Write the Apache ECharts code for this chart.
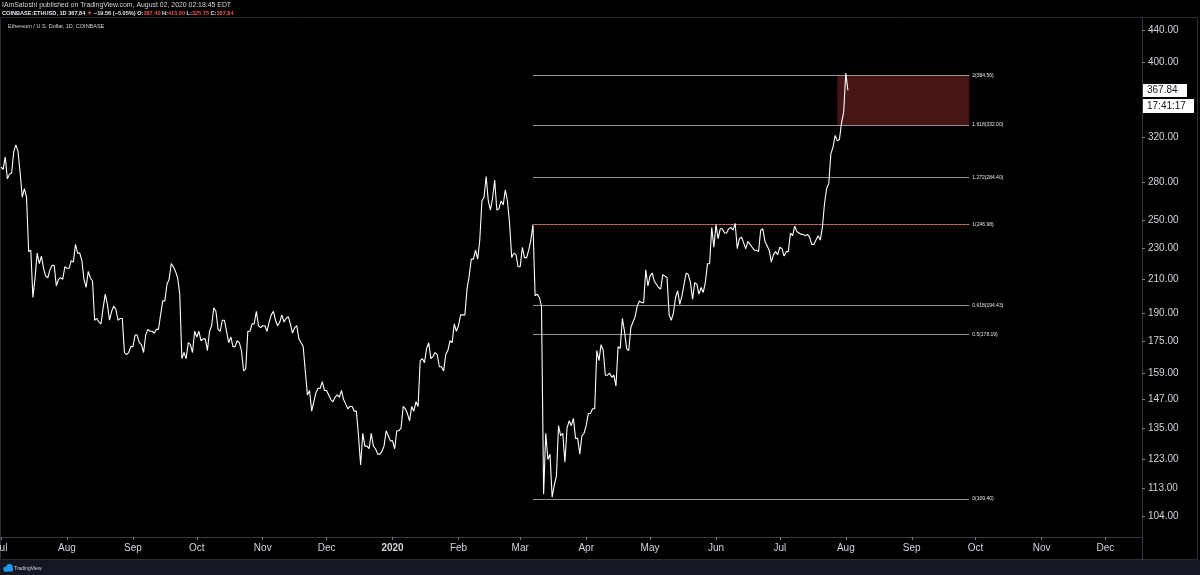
<!DOCTYPE html>
<html>
<head>
<meta charset="utf-8">
<script src="https://cdn.jsdelivr.net/npm/echarts@6/dist/echarts.min.js"></script>
<style>
html,body{margin:0;padding:0;background:#000;}
#c{width:1200px;height:575px;}
</style>
</head>
<body>
<div id="c"></div>
<script>
// ---- DATA (daily closes, COINBASE:ETHUSD) ----
const seriesStart = '2019-07-01';
const closes2019Jul = [293,291,302,283,287,288,307,313,307,288,268,275,268,228,229,199,211,227,220,225,217,212,211,216,219,219,206,210,211,210,218];
const closes2019Aug = [217,217,222,221,233,227,227,222,210,205,215,211,209,186,187,185,184,193,201,195,186,191,194,192,186,187,187,169,168,169,172];
const closes2019Sep = [172,178,178,174,173,169,178,181,180,180,179,181,181,189,197,197,207,210,220,218,215,211,201,166,169,166,174,173,169,180];
const closes2019Oct = [177,180,175,176,176,170,180,183,193,191,181,180,186,186,180,174,177,172,172,175,174,170,160,161,180,180,184,184,191,183,182];
const closes2019Nov = [183,183,180,185,189,191,186,183,185,189,185,187,188,184,179,182,183,176,174,172,160,149,151,142,146,150,152,152,155,151];
const closes2019Dec = [151,149,147,146,148,149,148,151,147,145,143,144,144,142,142,132,121,133,128,128,127,133,128,127,125,125,126,128,134,132,130];
const closes2020Jan = [130,127,134,134,135,144,143,141,138,144,142,146,144,165,166,164,171,174,166,167,169,168,162,162,160,168,170,175,174,184,180];
const closes2020Feb = [183,189,189,189,204,212,223,223,229,223,236,265,268,285,265,258,267,282,258,259,265,262,274,265,248,224,227,226,218];
const closes2020Mar = [218,231,224,224,229,236,247,200,201,199,194,111,133,123,125,110,114,117,136,132,133,122,135,138,136,139,131,131,125,132,133];
const closes2020Apr = [136,141,141,143,143,170,165,173,170,158,158,159,157,158,153,172,171,187,180,171,170,182,185,188,194,197,196,196,216,206];
const closes2020May = [212,214,209,207,205,204,213,212,211,189,186,190,199,203,195,200,207,214,213,208,198,208,207,201,205,202,208,220,220,245,231];
const closes2020Jun = [247,237,244,244,241,241,244,245,243,248,230,237,238,234,230,235,233,231,229,229,228,243,244,235,232,229,221,226,228,226];
const closes2020Jul = [231,230,225,228,228,241,239,246,242,241,240,240,239,240,238,233,233,236,239,236,245,263,275,279,305,311,322,317,318,334,345];
const closes2020Aug = [387.40,367.84];

const yTickValues = [104,113,123,135,147,159,175,190,210,230,250,280,320,400,440];
const monthNames = ['Jan','Feb','Mar','Apr','May','Jun','Jul','Aug','Sep','Oct','Nov','Dec'];
const monthTickStart = '2019-07-01';
const monthTickCount = 18;

const fibRatios = ['0','0.5','0.618','1','1.272','1.618','2'];
const fibPrices = [109.40,178.19,194.43,246.98,284.40,332.00,384.56];
const fibStart = '2020-03-07';
const fibEnd = '2020-09-28';
const zoneStart = '2020-07-28';
const countdownText = '17:41:17';

const headerLine1 = 'IAmSatoshi published on TradingView.com, August 02, 2020 02:18:45 EDT';
const headerSymbol = 'COINBASE:ETHUSD, 1D';
const headerChange = '\u221219.56 (\u22125.05%)';
const headerOHLC = [['O:','387.40'],['H:','415.00'],['L:','325.75'],['C:','367.84']];
const panelTitle = 'Ethereum / U.S. Dollar, 1D, COINBASE';

// ---- BUILD ----
const DAY = 86400000;
const ts = s => Date.parse(s + 'T00:00:00Z');
const t0 = ts(seriesStart);
const dayIndex = s => Math.round((ts(s) - t0) / DAY);
const closes = [].concat(closes2019Jul, closes2019Aug, closes2019Sep, closes2019Oct, closes2019Nov, closes2019Dec,
  closes2020Jan, closes2020Feb, closes2020Mar, closes2020Apr, closes2020May, closes2020Jun, closes2020Jul, closes2020Aug);
const seriesData = closes.map((c, i) => [i, c]);
const lastClose = closes[closes.length - 1];

const mt0 = new Date(ts(monthTickStart));
const monthTicks = [];
const monthTickLabel = {};
for (let k = 0; k < monthTickCount; k++) {
  const t = Date.UTC(mt0.getUTCFullYear(), mt0.getUTCMonth() + k, 1);
  const d = Math.round((t - t0) / DAY);
  const dt = new Date(t);
  monthTicks.push(d);
  monthTickLabel[d] = dt.getUTCMonth() === 0 ? '{b|' + dt.getUTCFullYear() + '}' : monthNames[dt.getUTCMonth()];
}

const fibLines = [];
fibPrices.forEach((p, i) => {
  fibLines.push([{ name: fibRatios[i] + '(' + p.toFixed(2) + ')', coord: [dayIndex(fibStart), p] }, { coord: [dayIndex(fibEnd), p] }]);
});
fibLines.push([{ name: '', coord: [dayIndex(fibStart), fibPrices[3]], lineStyle: { color: '#e0303a', type: [2, 2], width: 1 } }, { coord: [dayIndex(fibEnd), fibPrices[3]] }]);

const FONT = '"Liberation Sans", "Noto Sans", sans-serif';
const chart = echarts.init(document.getElementById('c'), null, { renderer: 'canvas' });

chart.setOption({
  backgroundColor: '#000000',
  animation: false,
  textStyle: { fontFamily: FONT },
  grid: { left: 0, right: 58, top: 18, bottom: 38, containLabel: false, outerBoundsMode: 'none' },
  xAxis: {
    type: 'value',
    min: -0.47,
    max: 536.2,
    axisLine: { show: true, onZero: false, lineStyle: { color: '#363a45', width: 1 } },
    axisTick: { show: true, customValues: monthTicks, length: 3, lineStyle: { color: '#787b86' } },
    axisLabel: {
      customValues: monthTicks,
      color: '#d1d4dc', fontSize: 10, margin: 6, fontFamily: FONT,
      formatter: v => monthTickLabel[Math.round(v)] || '',
      rich: { b: { fontWeight: 'bold', color: '#d1d4dc', fontSize: 10, fontFamily: FONT } }
    },
    splitLine: { show: false }
  },
  yAxis: {
    type: 'log',
    logBase: 10,
    min: 97.74,
    max: 456.2,
    position: 'right',
    axisLine: { show: true, onZero: false, lineStyle: { color: '#363a45', width: 1 } },
    axisTick: { show: true, customValues: yTickValues, length: 3, lineStyle: { color: '#787b86' } },
    axisLabel: {
      customValues: yTickValues,
      color: '#d1d4dc', fontSize: 10, margin: 6, fontFamily: FONT,
      formatter: v => Number(v).toFixed(2)
    },
    splitLine: { show: false }
  },
  series: [{
    type: 'line',
    data: seriesData,
    symbol: 'none',
    showSymbol: false,
    z: 5,
    lineStyle: { color: '#ffffff', width: 1.1 },
    markLine: {
      silent: true,
      animation: false,
      symbol: ['none', 'none'],
      lineStyle: { color: '#8f929b', type: 'solid', width: 1 },
      label: {
        show: true, position: 'end', distance: 3,
        color: '#e0e3eb', fontSize: 5, fontFamily: FONT,
        formatter: p => p.name
      },
      emphasis: { disabled: true },
      data: fibLines
    },
    markArea: {
      silent: true,
      itemStyle: { color: '#451614' },
      emphasis: { disabled: true },
      data: [[{ coord: [dayIndex(zoneStart), fibPrices[5]] }, { coord: [dayIndex(fibEnd), fibPrices[6]] }]]
    }
  }]
});

const yLast = chart.convertToPixel({ yAxisIndex: 0 }, lastClose);

let rich2 = '{w|' + headerSymbol + ' ' + lastClose.toFixed(2) + ' }{r|\u25BC}{w| ' + headerChange;
headerOHLC.forEach(o => { rich2 += ' ' + o[0] + '}{r|' + o[1] + '}{w|'; });
rich2 += '}';

chart.setOption({
  graphic: [
    { type: 'rect', silent: true, z: 0, shape: { x: 0.5, y: 17.5, width: 1197, height: 542 }, style: { fill: 'none', stroke: '#2a2e39', lineWidth: 1 } },
    { type: 'line', silent: true, shape: { x1: 1142.5, y1: 17.5, x2: 1142.5, y2: 560 }, style: { stroke: '#363a45', lineWidth: 1 } },
    { type: 'rect', silent: true, shape: { x: 0, y: 560, width: 1200, height: 15 }, style: { fill: '#131722' } },
    { type: 'text', silent: true, style: { x: 2, y: 5, text: headerLine1, fill: '#d1d4dc', font: '6.9px ' + FONT, verticalAlign: 'middle' } },
    { type: 'text', silent: true, style: { x: 2, y: 13, text: rich2, verticalAlign: 'middle',
      rich: { w: { fill: '#e0e3eb', fontSize: 5.6, fontWeight: 'bold', fontFamily: FONT }, r: { fill: '#ef5350', fontSize: 5.6, fontWeight: 'bold', fontFamily: FONT } } } },
    { type: 'text', silent: true, style: { x: 8, y: 26, text: panelTitle, fill: '#d1d4dc', font: '5.5px ' + FONT, verticalAlign: 'middle' } },
    { type: 'rect', silent: true, z: 20, shape: { x: 1143, y: yLast - 6.5, width: 44, height: 13 }, style: { fill: '#ffffff' } },
    { type: 'text', silent: true, z: 21, style: { x: 1147, y: yLast, text: lastClose.toFixed(2), fill: '#131722', font: '10px ' + FONT, verticalAlign: 'middle' } },
    { type: 'rect', silent: true, z: 20, shape: { x: 1143, y: yLast + 8.5, width: 51, height: 14 }, style: { fill: '#ffffff' } },
    { type: 'text', silent: true, z: 21, style: { x: 1147, y: yLast + 15.5, text: countdownText, fill: '#131722', font: '10px ' + FONT, verticalAlign: 'middle' } },
    { type: 'circle', silent: true, shape: { cx: 6, cy: 569, r: 2.6 }, style: { fill: '#2196f3' } },
    { type: 'circle', silent: true, shape: { cx: 9.5, cy: 567.3, r: 3.2 }, style: { fill: '#2196f3' } },
    { type: 'rect', silent: true, shape: { x: 4, y: 568.5, width: 9, height: 3 }, style: { fill: '#2196f3' } },
    { type: 'text', silent: true, style: { x: 14, y: 569, text: 'TradingView', fill: '#d1d4dc', font: '5px ' + FONT, verticalAlign: 'middle' } }
  ]
});
</script>
</body>
</html>
